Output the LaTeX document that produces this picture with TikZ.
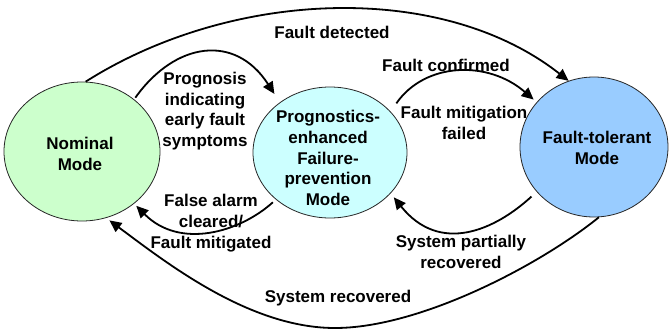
\documentclass[tikz,border=0pt]{standalone}
\usepackage{fontspec}
\setmainfont{Liberation Sans}
\usetikzlibrary{shapes.geometric,arrows.meta}
\definecolor{nomfill}{HTML}{CCFFCC}
\definecolor{progfill}{HTML}{CCFFFF}
\definecolor{ftfill}{HTML}{99CCFF}
\begin{document}
\begin{tikzpicture}[x=1pt,y=-1pt,
  mode/.style={ellipse,draw=black!85,line width=0.8pt,inner sep=0pt},
  lbl/.style={font=\bfseries\fontsize{17}{20.7}\selectfont,align=center,inner sep=0pt},
  trans/.style={line width=1.8pt,-{Triangle[length=12pt,width=11pt]}}]
\useasboundingbox (0,0) rectangle (670,335);

% the three operating modes
\node[mode,fill=nomfill,minimum width=156pt,minimum height=139pt] (nom) at (82,151.5) {};
\node[mode,fill=progfill,minimum width=154pt,minimum height=131pt] (prog) at (330,152.5) {};
\node[mode,fill=ftfill,minimum width=148pt,minimum height=140pt] (ft) at (594,147) {};

\node[lbl] (nomtxt) at (80,154) {Nominal\\Mode};
\node[lbl] (progtxt) at (328,158) {Prognostics-\\enhanced\\Failure-\\prevention\\Mode};
\node[lbl] (fttxt) at (597,148) {Fault-tolerant\\Mode};

% transitions
\draw[trans] (nom.87.5) .. controls (230,-10) and (440,-20) .. (ft.111.8);
\draw[trans,shorten <=2pt,shorten >=10pt] (nom.45.8) .. controls (175,42) and (235,33) .. (prog.135.7);
\draw[trans,shorten <=10pt,shorten >=4pt] (prog.34.9) .. controls (425,62) and (488,60) .. (ft.142.4);
\draw[trans,shorten <=4pt,shorten >=3pt] (prog.221) .. controls (240,232) and (180,250) .. (nom.315.8);
\draw[trans,shorten <=7pt,shorten >=5pt] (ft.218.9) .. controls (495,230) and (440,255) .. (prog.326.2);
\coordinate (low) at (335,328);
\draw[trans,shorten >=4pt] (ft.274.8) .. controls (540,265) and (420,328) .. (low)
  .. controls (250,328) and (168,264) .. (nom.290.5);

% transition labels
\node[lbl] (fd) at (332,32) {Fault detected};
\node[lbl] (prg) at (205,111) {Prognosis\\indicating\\early fault\\symptoms};
\node[lbl] (fc) at (446,65) {Fault confirmed};
\node[lbl] (fmf) at (464,123) {Fault mitigation\\failed};
\node[lbl] (fa) at (211,223) {False alarm\\cleared/\\Fault mitigated};
\node[lbl] (spr) at (461,252) {System partially\\recovered};
\node[lbl] (sr) at (338,298) {System recovered};
\end{tikzpicture}
\end{document}
